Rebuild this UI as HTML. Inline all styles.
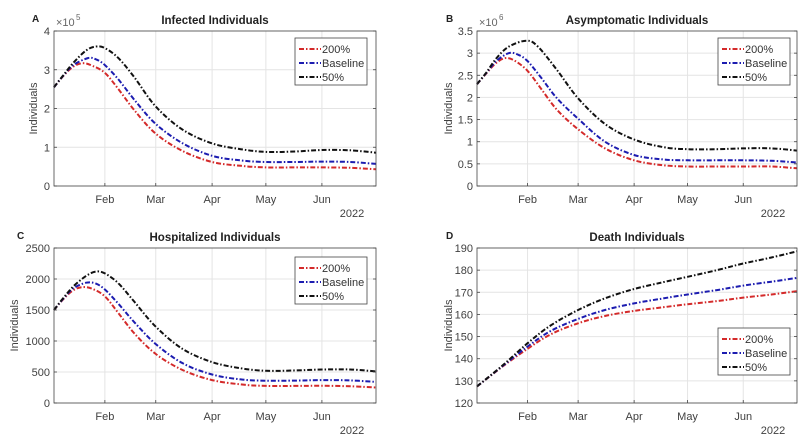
<!DOCTYPE html>
<html><head><meta charset="utf-8"><style>
html,body{margin:0;padding:0;background:#fff;}
svg{display:block;font-family:"Liberation Sans",sans-serif;}
</style></head><body>
<svg id="s" width="807" height="440" viewBox="0 0 807 440" xmlns="http://www.w3.org/2000/svg"></svg>
<script>
const NS="http://www.w3.org/2000/svg";
const S=document.getElementById('s');
function el(t,a,txt){const e=document.createElementNS(NS,t);for(const k in a)e.setAttribute(k,a[k]);if(txt!==undefined)e.textContent=txt;S.appendChild(e);return e;}
const months=[["Feb",0.158],["Mar",0.316],["Apr",0.491],["May",0.658],["Jun",0.832]];
const TC='#404040';
function spline(pts){
 let d="M"+pts[0][0].toFixed(1)+","+pts[0][1].toFixed(1);
 for(let i=0;i<pts.length-1;i++){
  const p0=pts[Math.max(0,i-1)],p1=pts[i],p2=pts[i+1],p3=pts[Math.min(pts.length-1,i+2)];
  const c1=[p1[0]+(p2[0]-p0[0])/6,p1[1]+(p2[1]-p0[1])/6];
  const c2=[p2[0]-(p3[0]-p1[0])/6,p2[1]-(p3[1]-p1[1])/6];
  d+=" C"+c1[0].toFixed(1)+","+c1[1].toFixed(1)+" "+c2[0].toFixed(1)+","+c2[1].toFixed(1)+" "+p2[0].toFixed(1)+","+p2[1].toFixed(1);
 }
 return d;
}
function panel(P){
 const {L,R,T,B,ymin,ymax,ticks,labels}=P;
 const X=f=>L+f*(R-L), Y=v=>B-(v-ymin)/(ymax-ymin)*(B-T);
 months.forEach(m=>el('line',{x1:X(m[1]),x2:X(m[1]),y1:T,y2:B,stroke:'#e4e4e4','stroke-width':1}));
 ticks.forEach(t=>el('line',{x1:L,x2:R,y1:Y(t),y2:Y(t),stroke:'#e4e4e4','stroke-width':1}));
 const cols=['#d42a2a','#1c1cb0','#111'];
 P.series.forEach((s,i)=>{
  el('path',{d:spline(s.map(p=>[X(p[0]),Y(p[1])])),fill:'none',stroke:cols[i],'stroke-width':2,'stroke-dasharray':'5,2,1.5,2'});
 });
 el('rect',{x:L,y:T,width:R-L,height:B-T,fill:'none',stroke:'#444','stroke-width':0.8});
 ticks.forEach((t,i)=>{el('line',{x1:L,x2:L+3,y1:Y(t),y2:Y(t),stroke:'#444','stroke-width':0.8});
  el('line',{x1:R,x2:R-3,y1:Y(t),y2:Y(t),stroke:'#444','stroke-width':0.8});
  el('text',{x:L-4,y:Y(t)+4,'font-size':11,fill:TC,'text-anchor':'end'},labels[i]);});
 months.forEach(m=>{el('line',{x1:X(m[1]),x2:X(m[1]),y1:B,y2:B-3,stroke:'#444','stroke-width':0.8});
  el('text',{x:X(m[1]),y:B+17,'font-size':11,fill:TC,'text-anchor':'middle'},m[0]);});
 el('text',{x:R-24,y:B+31,'font-size':11,fill:TC,'text-anchor':'middle'},"2022");
 el('text',{x:(L+R)/2,y:T-7,'font-size':11.5,'font-weight':'bold',fill:'#222','text-anchor':'middle'},P.title);
 el('text',{x:P.lx,y:T-9,'font-size':10,'font-weight':'bold',fill:'#222'},P.letter);
 if(P.exp){el('text',{x:L+2,y:T-5,'font-size':11,fill:'#666'},"×10");
  el('text',{x:L+22,y:T-11,'font-size':8,fill:'#666'},P.exp);}
 const yc=(T+B)/2;
 el('text',{x:P.ylx,y:yc,'font-size':11,fill:TC,'text-anchor':'middle',transform:`rotate(-90 ${P.ylx} ${yc})`},"Individuals");
 const lx=P.leg[0],ly=P.leg[1];
 el('rect',{x:lx,y:ly,width:72,height:47,fill:'#fff',stroke:'#444','stroke-width':0.8});
 ["200%","Baseline","50%"].forEach((n,i)=>{const yy=ly+11+i*14;
  el('line',{x1:lx+4,x2:lx+26,y1:yy,y2:yy,stroke:cols[i],'stroke-width':2,'stroke-dasharray':'5,2,1.5,2'});
  el('text',{x:lx+27,y:yy+4,'font-size':11,fill:'#333'},n);});
}
panel({L:54,R:376,T:31,B:186,ymin:0,ymax:4,ticks:[0,1,2,3,4],labels:["0","1","2","3","4"],
 title:"Infected Individuals",letter:"A",lx:32,exp:"5",ylx:37,leg:[295,38],
 series:[
 [[0,2.55],[0.03,2.85],[0.06,3.08],[0.09,3.17],[0.12,3.1],[0.158,2.92],[0.2,2.5],[0.25,1.95],[0.316,1.35],[0.4,0.9],[0.491,0.62],[0.58,0.52],[0.658,0.48],[0.75,0.48],[0.832,0.48],[0.92,0.47],[1,0.43]],
 [[0,2.55],[0.03,2.86],[0.06,3.12],[0.105,3.3],[0.13,3.27],[0.158,3.12],[0.2,2.75],[0.25,2.22],[0.316,1.6],[0.4,1.1],[0.491,0.78],[0.58,0.66],[0.658,0.62],[0.75,0.62],[0.832,0.63],[0.92,0.62],[1,0.57]],
 [[0,2.55],[0.03,2.87],[0.06,3.18],[0.1,3.5],[0.13,3.6],[0.158,3.56],[0.2,3.3],[0.25,2.8],[0.316,2.05],[0.4,1.45],[0.491,1.1],[0.58,0.95],[0.658,0.88],[0.75,0.89],[0.832,0.93],[0.92,0.92],[1,0.86]]]});
panel({L:477,R:797,T:31,B:186,ymin:0,ymax:3.5,ticks:[0,0.5,1,1.5,2,2.5,3,3.5],labels:["0","0.5","1","1.5","2","2.5","3","3.5"],
 title:"Asymptomatic Individuals",letter:"B",lx:446,exp:"6",ylx:452,leg:[718,38],
 series:[
 [[0,2.3],[0.03,2.55],[0.06,2.78],[0.09,2.89],[0.12,2.82],[0.158,2.6],[0.2,2.2],[0.25,1.72],[0.316,1.28],[0.4,0.85],[0.491,0.58],[0.58,0.47],[0.658,0.44],[0.75,0.44],[0.832,0.44],[0.92,0.44],[1,0.4]],
 [[0,2.3],[0.03,2.56],[0.06,2.82],[0.1,3.0],[0.13,2.96],[0.158,2.82],[0.2,2.45],[0.25,1.98],[0.316,1.52],[0.4,1.0],[0.491,0.7],[0.58,0.6],[0.658,0.58],[0.75,0.58],[0.832,0.58],[0.92,0.57],[1,0.53]],
 [[0,2.3],[0.03,2.57],[0.06,2.88],[0.1,3.15],[0.155,3.28],[0.19,3.15],[0.25,2.62],[0.316,1.98],[0.4,1.4],[0.491,1.05],[0.58,0.88],[0.658,0.83],[0.75,0.83],[0.832,0.85],[0.92,0.85],[1,0.8]]]});
panel({L:54,R:376,T:248,B:403,ymin:0,ymax:2500,ticks:[0,500,1000,1500,2000,2500],labels:["0","500","1000","1500","2000","2500"],
 title:"Hospitalized Individuals",letter:"C",lx:17,ylx:18,leg:[295,257],
 series:[
 [[0,1500],[0.03,1680],[0.06,1820],[0.09,1870],[0.12,1840],[0.158,1720],[0.2,1450],[0.25,1120],[0.316,790],[0.4,530],[0.491,370],[0.58,300],[0.658,275],[0.75,275],[0.832,278],[0.92,270],[1,250]],
 [[0,1500],[0.03,1690],[0.06,1850],[0.1,1940],[0.13,1925],[0.158,1830],[0.2,1600],[0.25,1300],[0.316,950],[0.4,640],[0.491,460],[0.58,380],[0.658,360],[0.75,362],[0.832,370],[0.92,365],[1,340]],
 [[0,1500],[0.03,1700],[0.06,1880],[0.1,2050],[0.13,2120],[0.158,2090],[0.2,1930],[0.25,1630],[0.316,1230],[0.4,870],[0.491,660],[0.58,560],[0.658,520],[0.75,525],[0.832,540],[0.92,540],[1,510]]]});
panel({L:477,R:797,T:248,B:403,ymin:120,ymax:190,ticks:[120,130,140,150,160,170,180,190],labels:["120","130","140","150","160","170","180","190"],
 title:"Death Individuals",letter:"D",lx:446,ylx:452,leg:[718,328],
 series:[
 [[0,127.5],[0.08,136.5],[0.158,144.5],[0.23,151],[0.316,156],[0.4,159.3],[0.491,161.6],[0.58,163.2],[0.658,164.6],[0.75,166],[0.832,167.6],[0.92,169],[1,170.5]],
 [[0,127.5],[0.08,136.7],[0.158,145.5],[0.23,152.5],[0.316,158],[0.4,162],[0.491,165],[0.58,167.2],[0.658,169],[0.75,171],[0.832,173],[0.92,174.8],[1,176.5]],
 [[0,127.5],[0.08,137],[0.158,147],[0.23,155],[0.316,162],[0.4,167.3],[0.491,171.5],[0.58,174.5],[0.658,177],[0.75,180],[0.832,183],[0.92,185.7],[1,188.5]]]});
</script>
</body></html>
